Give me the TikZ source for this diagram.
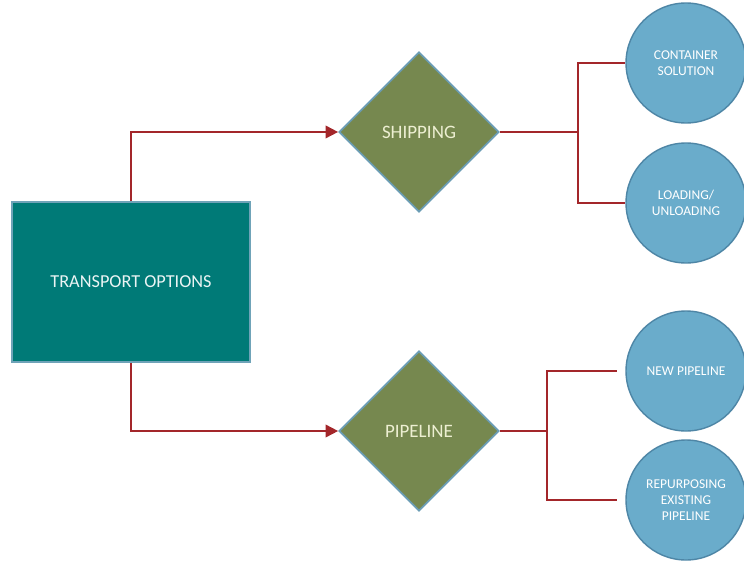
\documentclass[tikz,border=0pt]{standalone}
\usepackage{fontspec}
\setmainfont{Carlito}
\usetikzlibrary{shapes.geometric,arrows.meta}

\definecolor{boxteal}{HTML}{007A77}
\definecolor{boxedge}{HTML}{6FA3B8}
\definecolor{olive}{HTML}{76884F}
\definecolor{oliveedge}{HTML}{6A9CB4}
\definecolor{oliveText}{HTML}{EDEFD2}
\definecolor{bubble}{HTML}{6AACCB}
\definecolor{bubbleedge}{HTML}{4E86A6}
\definecolor{wire}{HTML}{A3262A}

\tikzset{
  mainbox/.style={rectangle,fill=boxteal,draw=boxedge,line width=1.2pt,
    minimum width=5.95cm,minimum height=4cm,text=white!92!boxteal,
    font=\fontsize{13}{15}\selectfont},
  choice/.style={diamond,aspect=1,fill=olive,draw=oliveedge,line width=1.2pt,
    minimum width=4cm,minimum height=4cm,inner sep=0pt,text=oliveText,
    font=\fontsize{13.5}{15}\selectfont},
  bubblenode/.style={circle,fill=bubble,draw=bubbleedge,line width=1pt,
    minimum size=3cm,inner sep=0pt,align=center,text=white,
    font=\fontsize{9.6}{11.5}\selectfont},
  wireline/.style={draw=wire,line width=1.3pt},
  wirearrow/.style={wireline,-{Triangle[length=9pt,width=9pt]}}
}

\begin{document}
\begin{tikzpicture}
\useasboundingbox (0,0) rectangle (18.6,14.075);

\node[mainbox] (opts) at (3.275,7.025) {TRANSPORT OPTIONS};

\node[choice] (ship) at (10.475,10.775) {SHIPPING};
\node[choice] (pipe) at (10.475,3.3) {PIPELINE};

\node[bubblenode] (cont) at (17.15,12.5) {CONTAINER\\SOLUTION};
\node[bubblenode] (load) at (17.15,9.0) {LOADING/\\UNLOADING};
\node[bubblenode] (newp) at (17.15,4.8) {NEW PIPELINE};
\node[bubblenode] (repu) at (17.15,1.575) {REPURPOSING\\EXISTING\\PIPELINE};

% box to choices
\draw[wirearrow] (opts.north) |- (ship.west);
\draw[wirearrow] (opts.south) |- (pipe.west);

% shipping branch
\coordinate (sj) at (14.45,10.775);
\draw[wireline] (ship.east) -- (sj);
\draw[wireline] (sj) |- (cont.west);
\draw[wireline] (sj) |- (load.west);

% pipeline branch
\coordinate (pj) at (13.675,3.3);
\draw[wireline] (pipe.east) -- (pj);
\draw[wireline,shorten >=6pt] (pj) |- (newp.west);
\draw[wireline,shorten >=6pt] (pj) |- (repu.west);
\end{tikzpicture}
\end{document}
